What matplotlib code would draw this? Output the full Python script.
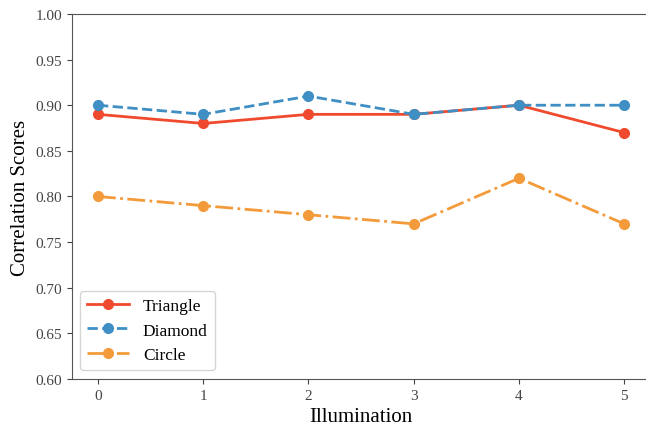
import matplotlib
matplotlib.use('Agg')
import matplotlib.pyplot as plt

# Data
illumination = [0, 1, 2, 3, 4, 5]
triangle = [0.89, 0.88, 0.89, 0.89, 0.90, 0.87]
diamond = [0.90, 0.89, 0.91, 0.89, 0.90, 0.90]
circle = [0.80, 0.79, 0.78, 0.77, 0.82, 0.77]

plt.rcParams['font.family'] = ['Liberation Serif', 'DejaVu Serif']

fig = plt.figure(figsize=(6.46, 4.27), dpi=100)
ax = fig.add_axes([0.111, 0.110, 0.896, 0.855])

ax.plot(illumination, triangle, '-o', color='#f04a2e', lw=2, ms=7, label='Triangle')
ax.plot(illumination, diamond, '--o', color='#3f8fc4', lw=2, ms=7, label='Diamond')
ax.plot(illumination, circle, '-.o', color='#f39a3a', lw=2, ms=7, label='Circle')

ax.set_ylim(0.60, 1.00)
ax.set_xlim(-0.25, 5.25)
ax.set_yticks([0.60, 0.65, 0.70, 0.75, 0.80, 0.85, 0.90, 0.95, 1.00])
ax.set_xlabel('Illumination', fontsize=15)
ax.set_ylabel('Correlation Scores', fontsize=15)
ax.tick_params(labelsize=11, colors='#444444')
for s in ax.spines.values():
    s.set_color('#555555')

ax.legend(loc='lower left', fontsize=12.5, handlelength=2.4)

fig.savefig('out.png', dpi=100)
